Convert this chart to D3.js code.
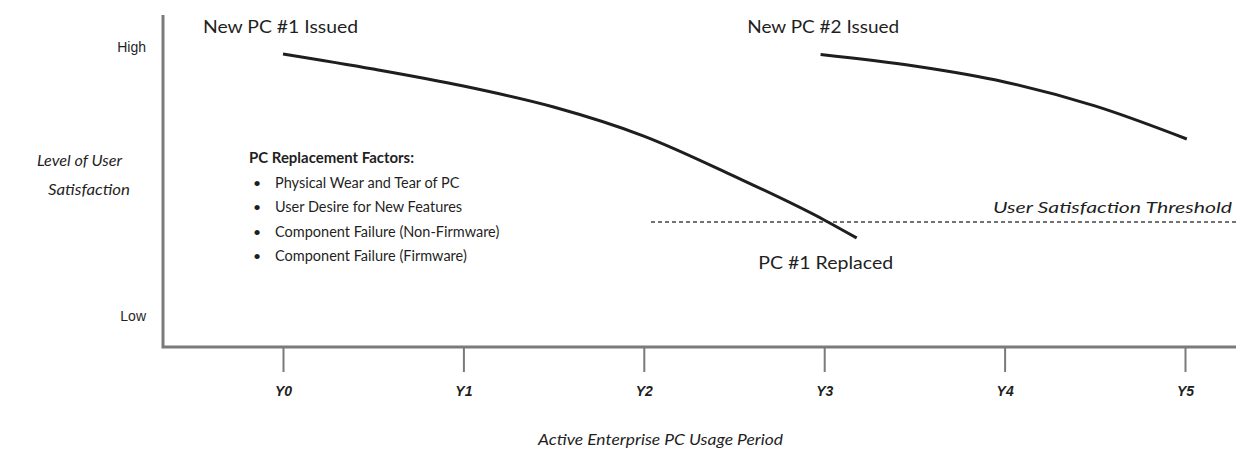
<!DOCTYPE html>
<meta charset="utf-8">
<title>PC Lifecycle and User Satisfaction</title>
<style>
body { margin: 0; background: #fff; }
svg { display: block; font-family: Lato, "Open Sans", sans-serif; }
.txt { fill: #1f1f1f; }
.tick text { font-weight: bold; font-style: italic; font-size: 14px; fill: #1f1f1f; }
.tick line { stroke: #7a7a7a; stroke-width: 2px; }
</style>
<svg width="1236" height="455"></svg>
<script src="https://d3js.org/d3.v7.min.js"></script>
<script>

// data
var years = [0, 1, 2, 3, 4, 5];
var yearLabels = ["Y0", "Y1", "Y2", "Y3", "Y4", "Y5"];
var levelLabels = ["Low", "High"];
var levelValues = [0, 10];

var pc1Years = [0, 0.5, 1, 1.5, 2, 2.5, 3, 3.18];
var pc1Satisfaction = [9.74, 9.18, 8.55, 7.77, 6.69, 5.2, 3.57, 2.9];

var pc2Years = [2.98, 3.5, 4, 4.5, 5.01];
var pc2Satisfaction = [9.72, 9.29, 8.7, 7.81, 6.58];

var thresholdYears = [2.04, 5.3];
var thresholdValue = 3.49;

var factors = [
  "Physical Wear and Tear of PC",
  "User Desire for New Features",
  "Component Failure (Non-Firmware)",
  "Component Failure (Firmware)"
];

var svg = d3.select("svg"),
    width = +svg.attr("width"),
    height = +svg.attr("height");

var x = d3.scaleLinear().domain([0, 5]).range([283, 1185]);
var y = d3.scaleLinear().domain([0, 10]).range([316, 47]);

var axisX0 = 163, axisY0 = 347;

// axis frame
svg.append("path")
    .attr("d", "M" + axisX0 + ",15V" + axisY0 + "H" + width)
    .attr("fill", "none")
    .attr("stroke", "#7a7a7a")
    .attr("stroke-width", 3);

// x ticks
var xAxis = svg.append("g")
    .attr("transform", "translate(0," + (axisY0 + 1) + ")")
    .call(d3.axisBottom(x)
        .tickValues(years)
        .tickSize(24)
        .tickPadding(14)
        .tickFormat(function(d, i) { return yearLabels[i]; }));
xAxis.select(".domain").remove();

// y level labels
var yAxis = svg.append("g")
    .attr("transform", "translate(" + (axisX0 - 17) + ",0)")
    .call(d3.axisLeft(y)
        .tickValues(levelValues)
        .tickSize(0)
        .tickPadding(0)
        .tickFormat(function(d, i) { return levelLabels[i]; }));
yAxis.select(".domain").remove();
yAxis.selectAll("text")
    .style("font-weight", "normal")
    .style("font-style", "normal")
    .style("font-size", "14px");

// stretched label helper
function label(xp, yp, str, size, len, italic, anchor) {
  return svg.append("text")
      .attr("class", "txt")
      .attr("x", xp).attr("y", yp)
      .attr("text-anchor", anchor || "start")
      .attr("textLength", len)
      .attr("lengthAdjust", "spacingAndGlyphs")
      .style("font-style", italic ? "italic" : "normal")
      .style("font-size", size + "px")
      .text(str);
}

// axis titles
label(538, 445, "Active Enterprise PC Usage Period", 16, 245, true);
label(37, 166, "Level of User", 15.5, 85, true);
label(48, 195, "Satisfaction", 15.5, 82, true);

// threshold
svg.append("line")
    .attr("x1", x(thresholdYears[0]))
    .attr("x2", x(thresholdYears[1]))
    .attr("y1", y(thresholdValue))
    .attr("y2", y(thresholdValue))
    .attr("stroke", "#444")
    .attr("stroke-width", 1.5)
    .attr("stroke-dasharray", "4,3");

label(993, y(thresholdValue) - 9, "User Satisfaction Threshold", 16, 239, true);

// curves
var line = d3.line()
    .x(function(d) { return x(d[0]); })
    .y(function(d) { return y(d[1]); })
    .curve(d3.curveMonotoneX);

svg.append("path")
    .datum(d3.zip(pc1Years, pc1Satisfaction))
    .attr("d", line)
    .attr("fill", "none")
    .attr("stroke", "#1e1e1e")
    .attr("stroke-width", 3);

svg.append("path")
    .datum(d3.zip(pc2Years, pc2Satisfaction))
    .attr("d", line)
    .attr("fill", "none")
    .attr("stroke", "#1e1e1e")
    .attr("stroke-width", 3);

// annotations
label(x(0) - 80, 33, "New PC #1 Issued", 17, 155);
label(x(3) - 77, 33, "New PC #2 Issued", 17, 152);
label(x(3) - 66, 269, "PC #1 Replaced", 17, 135);

// replacement factors
var fg = svg.append("g").attr("transform", "translate(249,163)");
fg.append("text")
    .attr("class", "txt")
    .attr("textLength", 165)
    .attr("lengthAdjust", "spacingAndGlyphs")
    .style("font-weight", "bold")
    .style("font-size", "14.5px")
    .text("PC Replacement Factors:");

var items = fg.selectAll(".item")
    .data(factors)
  .enter().append("g")
    .attr("class", "item")
    .attr("transform", function(d, i) { return "translate(0," + (25 + i * 24.3) + ")"; });
items.append("text")
    .attr("class", "txt")
    .attr("x", 4)
    .style("font-size", "14px")
    .text("\u2022");
items.append("text")
    .attr("class", "txt")
    .attr("x", 26)
    .style("font-size", "14.5px")
    .text(function(d) { return d; });

</script>
